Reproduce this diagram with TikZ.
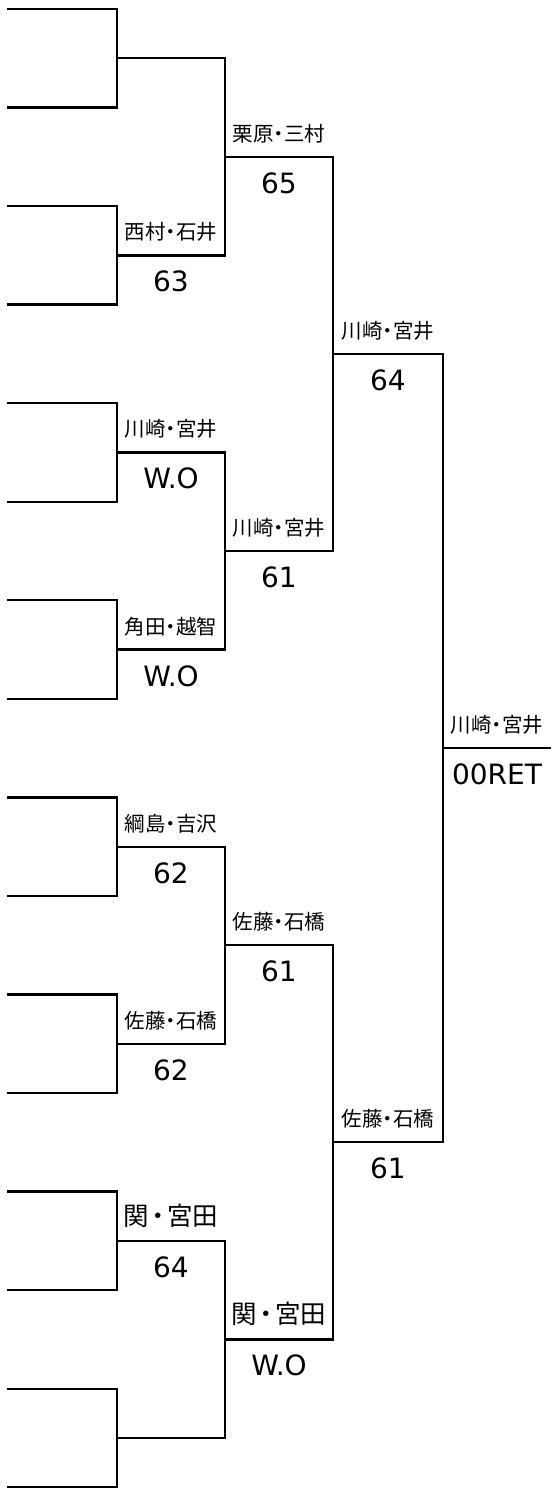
\documentclass[tikz,border=0pt]{standalone}
\usepackage{fontspec}
\setmainfont{DejaVu Sans}
\newfontfamily\jp{Noto Sans CJK JP}
\usetikzlibrary{calc}
\newcommand\mdt{\kern-.25em ・\kern-.25em }
\newcommand\mdtb{\kern-.14em ・\kern-.14em }
\tikzset{
  br/.style={draw=black, line width=2.3pt},
  nm/.style={anchor=base, inner sep=0pt, font=\jp\fontsize{20.5}{20.5}\selectfont},
  nmbig/.style={anchor=base, inner sep=0pt, font=\jp\fontsize{25.5}{25.5}\selectfont},
  sc/.style={anchor=base, inner sep=0pt, font=\fontsize{28}{28}\selectfont}
}
\begin{document}
\begin{tikzpicture}[x=1pt,y=-1pt]
\useasboundingbox (0,0) rectangle (551,1495);
% leaves
\foreach \i in {0,...,15} {
  \pgfmathsetmacro\yy{9+98.55*\i}
  \coordinate (P0-\i) at (7,\yy);
}
% match outputs
\foreach \j in {0,...,7} {
  \pgfmathsetmacro\yy{9+98.55*(2*\j+0.5)}
  \coordinate (P1-\j) at (117,\yy);
}
\foreach \j in {0,...,3} {
  \pgfmathsetmacro\yy{9+98.55*(4*\j+1.5)}
  \coordinate (P2-\j) at (225,\yy);
}
\foreach \j in {0,1} {
  \pgfmathsetmacro\yy{9+98.55*(8*\j+3.5)}
  \coordinate (P3-\j) at (333,\yy);
}
\coordinate (P4-0) at (443,{9+98.55*7.5});
\coordinate (E) at (551,{9+98.55*7.5});
% brackets
\foreach \r/\p/\n in {1/0/7, 2/1/3, 3/2/1, 4/3/0} {
  \foreach \j in {0,...,\n} {
    \pgfmathtruncatemacro\a{2*\j}
    \pgfmathtruncatemacro\b{2*\j+1}
    \draw[br] (P\p-\a) -| (P\r-\j) |- (P\p-\b);
  }
}
\draw[br] (P4-0) -- (E);
% round 1 labels
\node[nm] (w1-1) at ($(P1-1)+(54,-15.5)$) {西村\mdt 石井};
\node[sc] (s1-1) at ($(P1-1)+(54,36.5)$) {63};
\node[nm] (w1-2) at ($(P1-2)+(54,-15.5)$) {川崎\mdt 宮井};
\node[sc] (s1-2) at ($(P1-2)+(54,36.5)$) {W.O};
\node[nm] (w1-3) at ($(P1-3)+(54,-15.5)$) {角田\mdt 越智};
\node[sc] (s1-3) at ($(P1-3)+(54,36.5)$) {W.O};
\node[nm] (w1-4) at ($(P1-4)+(54,-15.5)$) {綱島\mdt 吉沢};
\node[sc] (s1-4) at ($(P1-4)+(54,36.5)$) {62};
\node[nm] (w1-5) at ($(P1-5)+(54,-15.5)$) {佐藤\mdt 石橋};
\node[sc] (s1-5) at ($(P1-5)+(54,36.5)$) {62};
\node[nmbig] (w1-6) at ($(P1-6)+(54,-15.5)$) {関\mdtb 宮田};
\node[sc] (s1-6) at ($(P1-6)+(54,36.5)$) {64};
% round 2 labels
\node[nm] (w2-0) at ($(P2-0)+(54,-15.5)$) {栗原\mdt 三村};
\node[sc] (s2-0) at ($(P2-0)+(54,36.5)$) {65};
\node[nm] (w2-1) at ($(P2-1)+(54,-15.5)$) {川崎\mdt 宮井};
\node[sc] (s2-1) at ($(P2-1)+(54,36.5)$) {61};
\node[nm] (w2-2) at ($(P2-2)+(54,-15.5)$) {佐藤\mdt 石橋};
\node[sc] (s2-2) at ($(P2-2)+(54,36.5)$) {61};
\node[nmbig] (w2-3) at ($(P2-3)+(54,-15.5)$) {関\mdtb 宮田};
\node[sc] (s2-3) at ($(P2-3)+(54,36.5)$) {W.O};
% round 3 labels
\node[nm] (w3-0) at ($(P3-0)+(55,-15.5)$) {川崎\mdt 宮井};
\node[sc] (s3-0) at ($(P3-0)+(55,36.5)$) {64};
\node[nm] (w3-1) at ($(P3-1)+(55,-15.5)$) {佐藤\mdt 石橋};
\node[sc] (s3-1) at ($(P3-1)+(55,36.5)$) {61};
% final
\node[nm] (w4-0) at ($(P4-0)+(54,-15.5)$) {川崎\mdt 宮井};
\node[sc] (s4-0) at ($(P4-0)+(54,36.5)$) {00RET};
\end{tikzpicture}
\end{document}
